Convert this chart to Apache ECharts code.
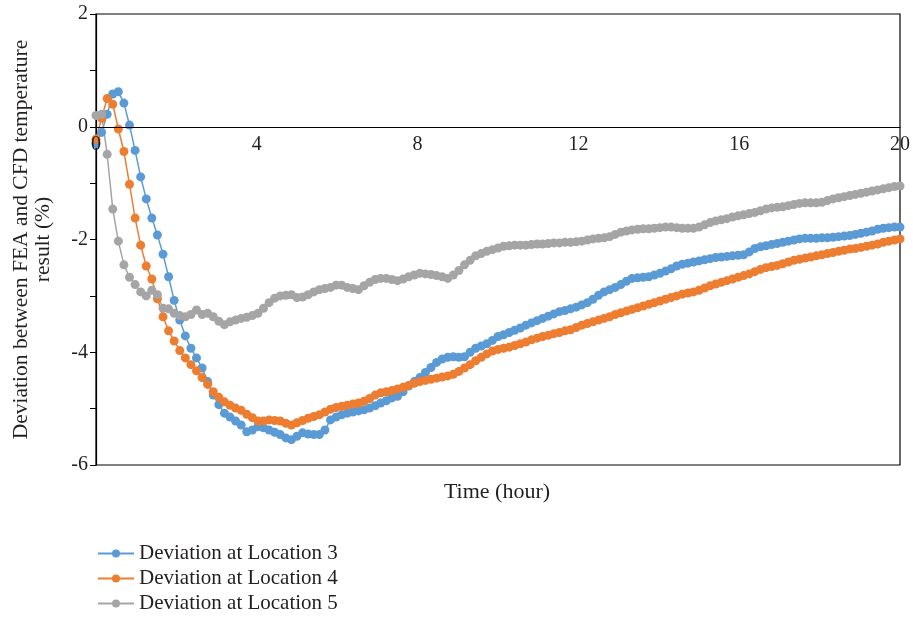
<!DOCTYPE html>
<html>
<head>
<meta charset="utf-8">
<script src="https://cdn.jsdelivr.net/npm/echarts@6/dist/echarts.min.js"></script>
<style>
  html, body { margin: 0; padding: 0; background: #fff; }
  #chart { width: 913px; height: 618px; }
</style>
</head>
<body>
<div id="chart"></div>
<script>
// one reading every 500 s
var stepHours = 500 / 3600;
var xTicks = [0, 4, 8, 12, 16, 20];
var seriesNames = ['Deviation at Location 3', 'Deviation at Location 4', 'Deviation at Location 5'];
var seriesColors = ['#5b9bd5', '#ed7d31', '#a5a5a5'];

var loc3 = [
  -0.30, -0.10, 0.22, 0.58, 0.62, 0.42, 0.03, -0.42, -0.89, -1.28,
  -1.62, -1.92, -2.26, -2.66, -3.08, -3.43, -3.71, -3.93, -4.10, -4.28,
  -4.52, -4.76, -4.93, -5.08, -5.15, -5.22, -5.29, -5.41, -5.38, -5.32,
  -5.34, -5.38, -5.42, -5.46, -5.52, -5.55, -5.49, -5.43, -5.45, -5.46,
  -5.46, -5.38, -5.20, -5.15, -5.11, -5.08, -5.06, -5.04, -5.02, -4.99,
  -4.95, -4.90, -4.86, -4.81, -4.78, -4.70, -4.60, -4.52, -4.45, -4.36,
  -4.27, -4.18, -4.12, -4.09, -4.08, -4.09, -4.08, -4.00, -3.93, -3.89,
  -3.85, -3.79, -3.72, -3.69, -3.65, -3.61, -3.57, -3.52, -3.48, -3.44,
  -3.40, -3.36, -3.32, -3.28, -3.26, -3.23, -3.20, -3.16, -3.12, -3.06,
  -2.99, -2.93, -2.89, -2.85, -2.80, -2.74, -2.69, -2.68, -2.67, -2.66,
  -2.63, -2.60, -2.56, -2.52, -2.47, -2.44, -2.42, -2.40, -2.38, -2.36,
  -2.34, -2.32, -2.31, -2.30, -2.29, -2.28, -2.27, -2.22, -2.16, -2.13,
  -2.11, -2.09, -2.07, -2.05, -2.03, -2.01, -1.99, -1.98, -1.98, -1.98,
  -1.97, -1.97, -1.96, -1.95, -1.94, -1.93, -1.91, -1.89, -1.87, -1.85,
  -1.82, -1.80, -1.79, -1.78, -1.78
];
var loc4 = [
  -0.22, 0.15, 0.50, 0.40, -0.04, -0.44, -1.02, -1.62, -2.10, -2.47,
  -2.70, -3.05, -3.37, -3.62, -3.80, -3.97, -4.10, -4.22, -4.33, -4.45,
  -4.57, -4.70, -4.80, -4.88, -4.94, -4.99, -5.03, -5.10, -5.16, -5.22,
  -5.22, -5.20, -5.21, -5.22, -5.26, -5.29, -5.25, -5.21, -5.17, -5.14,
  -5.11, -5.06, -5.01, -4.98, -4.96, -4.94, -4.92, -4.90, -4.87, -4.82,
  -4.76, -4.72, -4.70, -4.68, -4.65, -4.62, -4.59, -4.55, -4.52, -4.50,
  -4.48, -4.46, -4.44, -4.42, -4.39, -4.34, -4.28, -4.22, -4.15, -4.09,
  -4.03, -3.98, -3.95, -3.93, -3.91, -3.88, -3.85, -3.82, -3.78, -3.75,
  -3.72, -3.70, -3.67, -3.65, -3.62, -3.60, -3.56, -3.52, -3.49, -3.46,
  -3.43, -3.40, -3.37, -3.33, -3.30, -3.27, -3.24, -3.21, -3.18, -3.15,
  -3.12, -3.09, -3.06, -3.03, -3.00, -2.97, -2.95, -2.93, -2.90, -2.86,
  -2.82, -2.79, -2.76, -2.73, -2.70, -2.67, -2.64, -2.61, -2.57, -2.53,
  -2.50, -2.48, -2.46, -2.43, -2.40, -2.37, -2.35, -2.33, -2.31, -2.29,
  -2.27, -2.25, -2.23, -2.21, -2.19, -2.17, -2.16, -2.14, -2.12, -2.10,
  -2.08, -2.05, -2.03, -2.01, -1.99
];
var loc5 = [
  0.20, 0.22, -0.49, -1.46, -2.03, -2.45, -2.67, -2.80, -2.93, -3.00,
  -2.90, -2.98, -3.22, -3.23, -3.31, -3.35, -3.37, -3.33, -3.25, -3.33,
  -3.31, -3.37, -3.45, -3.51, -3.46, -3.43, -3.40, -3.38, -3.35, -3.31,
  -3.22, -3.12, -3.04, -3.00, -2.99, -2.98, -3.03, -3.02, -2.98, -2.93,
  -2.89, -2.87, -2.85, -2.81, -2.81, -2.85, -2.87, -2.89, -2.82, -2.76,
  -2.71, -2.69, -2.69, -2.71, -2.73, -2.70, -2.66, -2.63, -2.60, -2.61,
  -2.62, -2.64, -2.66, -2.69, -2.63, -2.55, -2.45, -2.37, -2.29, -2.25,
  -2.21, -2.18, -2.15, -2.12, -2.11, -2.10, -2.10, -2.10, -2.09, -2.08,
  -2.08, -2.07, -2.06, -2.06, -2.05, -2.05, -2.04, -2.03, -2.01, -1.99,
  -1.98, -1.97, -1.95, -1.91, -1.87, -1.85, -1.83, -1.82, -1.81, -1.81,
  -1.80, -1.79, -1.78, -1.78, -1.79, -1.80, -1.80, -1.80, -1.78, -1.74,
  -1.70, -1.67, -1.65, -1.63, -1.60, -1.58, -1.56, -1.54, -1.52, -1.49,
  -1.46, -1.44, -1.43, -1.42, -1.40, -1.38, -1.36, -1.35, -1.35, -1.35,
  -1.34, -1.31, -1.28, -1.26, -1.24, -1.22, -1.20, -1.18, -1.16, -1.14,
  -1.12, -1.10, -1.08, -1.06, -1.05
];

var font = 'Liberation Serif';
var ink = '#231f20';
var yMin = -6, yMax = 2;
var gridTop = 14, gridBottom = 153, chartH = 618;

function toPairs(vals) {
  return vals.map(function (v, i) { return [i * stepHours, v]; });
}

// x axis sits on y = 0, labels included
var plotH = chartH - gridTop - gridBottom;
var zeroOffset = -plotH * (0 - yMin) / (yMax - yMin);

var allSeries = [loc3, loc4, loc5].map(function (vals, k) {
  return {
    name: seriesNames[k],
    type: 'line',
    data: toPairs(vals),
    symbol: 'circle',
    symbolSize: 9,
    showAllSymbol: true,
    lineStyle: { width: 1.5, color: seriesColors[k] },
    itemStyle: { color: seriesColors[k] }
  };
});

var chart = echarts.init(document.getElementById('chart'));
chart.setOption({
  animation: false,
  backgroundColor: '#fff',
  textStyle: { fontFamily: font, color: ink },
  grid: {
    left: 96, right: 8, top: gridTop, bottom: gridBottom,
    show: true, borderColor: '#000', borderWidth: 1.2
  },
  legend: {
    orient: 'vertical',
    left: 97, top: 543,
    padding: 0,
    itemWidth: 36, itemHeight: 10, itemGap: 4,
    textStyle: { fontFamily: font, fontSize: 21, color: ink, lineHeight: 21 },
    data: seriesNames
  },
  graphic: [{
    type: 'text',
    x: 497, y: 492,
    style: {
      text: 'Time (hour)', font: '22px "Liberation Serif"', fill: ink,
      textAlign: 'center', textVerticalAlign: 'middle'
    }
  }],
  xAxis: {
    type: 'value',
    z: 5,
    min: 0, max: 20, interval: 4,
    offset: zeroOffset,
    axisLine: { onZero: false, lineStyle: { color: '#000', width: 1.2 } },
    axisTick: { show: false },
    splitLine: { show: false },
    axisLabel: {
      margin: 8, fontSize: 20, fontFamily: font, color: ink,
      showMinLabel: true, showMaxLabel: true, hideOverlap: false,
      customValues: xTicks
    }
  },
  yAxis: {
    type: 'value',
    min: yMin, max: yMax, interval: 1,
    name: 'Deviation between FEA and CFD temperature\nresult (%)',
    nameLocation: 'middle',
    nameGap: 42,
    nameTextStyle: { fontFamily: font, fontSize: 21.5, color: ink, lineHeight: 22 },
    axisLine: { show: true, lineStyle: { color: '#000', width: 1.2 } },
    axisTick: { show: true, inside: false, length: 6, lineStyle: { color: '#000' } },
    splitLine: { show: false },
    axisLabel: {
      margin: 8, fontSize: 20, fontFamily: font, color: ink,
      formatter: function (v) { return v % 2 === 0 ? String(v) : ''; }
    }
  },
  series: allSeries
});
</script>
</body>
</html>
